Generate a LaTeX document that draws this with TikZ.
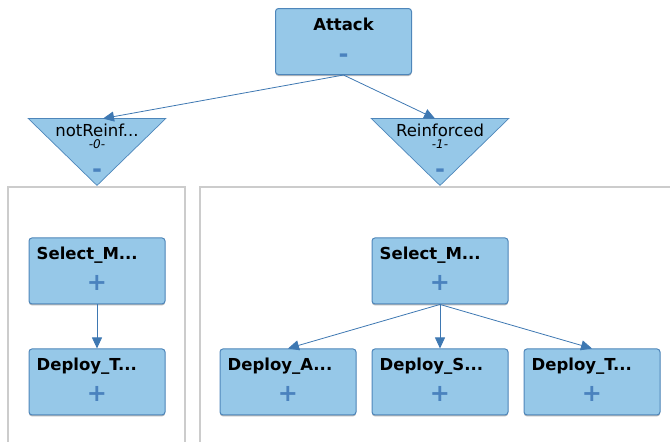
\documentclass[tikz,border=0pt]{standalone}
\usepackage{fontspec}
\setmainfont{DejaVu Sans}
\usepackage{tikz}
\usetikzlibrary{arrows.meta, positioning, backgrounds, shadows}

\definecolor{boxfill}{HTML}{96C8E8}
\definecolor{boxline}{HTML}{4E86BA}
\definecolor{signblue}{HTML}{4A82BE}
\definecolor{linkblue}{HTML}{3E78B2}
\definecolor{panelgray}{HTML}{CCCCCC}

\begin{document}
\begin{tikzpicture}[
    x=1pt, y=1pt,
    node distance=15pt,
    task/.style={rectangle, rounded corners=3pt, minimum width=136pt, minimum height=66pt, inner sep=0pt, draw=boxline, line width=1pt, fill=boxfill, drop shadow={shadow xshift=0pt, shadow yshift=-1.5pt, fill=black!28, opacity=1}},
    choice/.style={rectangle, minimum width=137pt, minimum height=66.5pt, inner sep=0pt},
    tasktitle/.style={anchor=north west, xshift=8pt, yshift=-9.5pt, inner sep=0pt, font=\fontsize{16.5}{19}\selectfont\bfseries},
    goaltitle/.style={anchor=north, yshift=-9.5pt, inner sep=0pt, font=\fontsize{16.5}{19}\selectfont\bfseries},
    sign/.style={anchor=center, inner sep=0pt, text=signblue, font=\fontsize{24}{28}\selectfont\bfseries},
    choicetitle/.style={anchor=north, yshift=-5.5pt, inner sep=0pt, font=\fontsize{16.5}{19}\selectfont},
    choiceid/.style={anchor=north, yshift=-21pt, inner sep=0pt, font=\fontsize{12}{14}\selectfont\itshape},
    choiceshape/.style={fill=boxfill, draw=boxline, line width=0.7pt},
    panel/.style={draw=panelgray, line width=1.2pt},
    arrow/.style={draw=linkblue, line width=0.8pt, ->, >={Triangle[length=11pt, width=10pt]}}
]
\useasboundingbox (0,0) rectangle (670,-442);

% Goal
\node (attack) [task, label={[goaltitle]north:Attack}, label={[sign, yshift=-50pt]north:-}] at (343.5,-41.5) {};

% Choices
\node (notreinf) [choice, label={[choicetitle]north:notReinf...}, label={[choiceid]north:-0-}, label={[sign, yshift=-55pt]north:-}] at (97,-152) {};
\node (reinforced) [choice, label={[choicetitle]north:Reinforced}, label={[choiceid]north:-1-}, label={[sign, yshift=-55pt]north:-}] at (440,-152) {};

% Panels
\draw[panel] (8,-446) |- (185,-187) -- (185,-446);
\draw[panel] (200,-446) |- (674,-187);

% Left branch
\node (selectl) [task, below=52pt of notreinf, label={[tasktitle]north west:Select\_M...}, label={[sign, yshift=-46pt]north:+}] {};
\node (deploytl) [task, below=44pt of selectl, label={[tasktitle]north west:Deploy\_T...}, label={[sign, yshift=-46pt]north:+}] {};

% Right branch
\node (selectr) [task, below=52pt of reinforced, label={[tasktitle]north west:Select\_M...}, label={[sign, yshift=-46pt]north:+}] {};
\node (deploys) [task, below=44pt of selectr, label={[tasktitle]north west:Deploy\_S...}, label={[sign, yshift=-46pt]north:+}] {};
\node (deploya) [task, left=15pt of deploys, label={[tasktitle]north west:Deploy\_A...}, label={[sign, yshift=-46pt]north:+}] {};
\node (deploytr) [task, right=15pt of deploys, label={[tasktitle]north west:Deploy\_T...}, label={[sign, yshift=-46pt]north:+}] {};

% Triangles
\begin{scope}[on background layer]
\filldraw[choiceshape] (notreinf.north west) -- (notreinf.north east) -- (notreinf.south) -- cycle;
\filldraw[choiceshape] (reinforced.north west) -- (reinforced.north east) -- (reinforced.south) -- cycle;
\end{scope}

% Arrows
\draw [arrow] (attack.south) -- ([xshift=6pt]notreinf.north);
\draw [arrow] (attack.south) -- ([xshift=-5pt]reinforced.north);
\draw [arrow] (selectl) -- (deploytl);
\draw [arrow] (selectr.south) -- (deploya.north);
\draw [arrow] (selectr) -- (deploys);
\draw [arrow] (selectr.south) -- (deploytr.north);

\end{tikzpicture}
\end{document}
